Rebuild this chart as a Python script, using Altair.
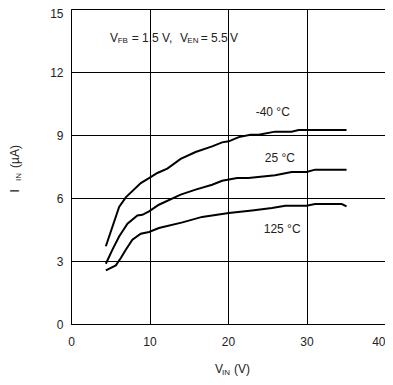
import altair as alt
import pandas as pd

# ---- data ----
x_m40 = [4.44, 6.13, 6.98, 8.89, 9.94, 11.0, 12.27, 13.97, 15.87, 17.98, 19.25, 20.1, 21.37, 22.86, 23.9, 26.0, 28.1, 29.0, 35.1]
y_m40 = [3.70, 5.57, 6.03, 6.71, 6.95, 7.19, 7.40, 7.86, 8.19, 8.46, 8.65, 8.70, 8.90, 9.01, 9.01, 9.16, 9.16, 9.24, 9.24]

x_25 = [4.44, 5.28, 6.13, 7.19, 8.46, 9.09, 9.94, 11.2, 13.97, 15.87, 17.98, 19.25, 21.16, 22.6, 26.0, 28.1, 30.0, 31.1, 35.1]
y_25 = [2.87, 3.54, 4.17, 4.78, 5.17, 5.20, 5.36, 5.68, 6.16, 6.40, 6.63, 6.82, 6.95, 6.95, 7.08, 7.24, 7.24, 7.35, 7.35]

x_125 = [4.44, 5.71, 6.35, 6.98, 7.82, 8.89, 9.94, 11.2, 14.2, 16.7, 20.1, 23.06, 25.6, 27.3, 30.0, 31.1, 34.5, 35.1]
y_125 = [2.55, 2.79, 3.14, 3.54, 4.01, 4.30, 4.38, 4.57, 4.84, 5.10, 5.29, 5.41, 5.52, 5.63, 5.63, 5.71, 5.71, 5.60]

series_names = ["-40 °C", "25 °C", "125 °C"]
label_x = [25.7, 26.6, 26.9]
label_y = [10.1, 7.9, 4.52]

x_ticks = [0, 10, 20, 30, 40]
y_ticks = [0, 3, 6, 9, 12, 15]

rows = []
for name, xs, ys in zip(series_names, [x_m40, x_25, x_125], [y_m40, y_25, y_125]):
    for i, (a, b) in enumerate(zip(xs, ys)):
        rows.append({"series": name, "vin": a, "iin": b, "order": i})
df = pd.DataFrame(rows)
lab = pd.DataFrame({"series": series_names, "vin": label_x, "iin": label_y})

FONT = "Liberation Sans"
TXT = "#222"
W, H = 314, 315

xs = alt.Scale(domain=[0, 40], nice=False)
ys = alt.Scale(domain=[0, 15], nice=False)

lines = alt.Chart(df).mark_line(color="black", strokeWidth=2).encode(
    x=alt.X("vin:Q", scale=xs, axis=alt.Axis(
        values=x_ticks, title=None, grid=True, ticks=False, labelFlush=False,
        labelAlign={"condition": {"test": "datum.value >= 40", "value": "right"}, "value": "center"},
        labelPadding=12, labelFontSize=12, labelFont=FONT, labelColor=TXT,
        gridColor="black", gridOpacity=1, domainColor="black")),
    y=alt.Y("iin:Q", scale=ys, axis=alt.Axis(
        values=y_ticks, title=None, grid=True, ticks=False, labelFlush=False,
        labelOffset={"condition": {"test": "datum.value >= 15", "value": 4}, "value": 0},
        labelPadding=8, labelFontSize=12, labelFont=FONT, labelColor=TXT,
        gridColor="black", gridOpacity=1, domainColor="black")),
    detail="series:N",
    order="order:Q",
)

labels = alt.Chart(lab).mark_text(font=FONT, fontSize=12, color=TXT, align="center", baseline="middle").encode(
    x=alt.X("vin:Q", scale=xs), y=alt.Y("iin:Q", scale=ys), text="series:N"
)


def piece(txt, x, y, size, angle=0):
    kw = dict(text=txt, font=FONT, fontSize=size, color=TXT, align="left", baseline="alphabetic")
    if angle:
        kw["angle"] = angle
    return alt.Chart(pd.DataFrame({"a": [0]})).mark_text(**kw).encode(x=alt.value(x), y=alt.value(y))


# annotation V_FB = 1.5 V, V_EN = 5.5 V  (positions relative to plot area)
ay = 32.5
sy = ay + 1.2
ann = [
    piece("V", 39, ay, 12), piece("FB", 46.7, sy, 8), piece("= 1.5 V,", 60.7, ay, 12),
    piece("V", 109, ay, 12), piece("EN", 116.3, sy, 8), piece("= 5.5", 129.7, ay, 12),
    piece("V", 159, ay, 12),
]
# x title
tx = [piece("V", 144, 364, 12), piece("IN", 151, 365.5, 8), piece("(V)", 163, 364, 12)]
# y title (rotated)
bx = -52
ty = [piece("I", bx, 183.5, 12, 270), piece("IN", bx + 1.5, 172, 8, 270), piece("(µA)", bx, 159, 12, 270)]

chart = alt.layer(lines, labels, *ann, *tx, *ty).properties(
    width=W, height=H,
    autosize=alt.AutoSizeParams(type="none"),
    padding={"left": 63, "top": 1, "right": 0, "bottom": 53},
).configure_view(stroke="black", strokeWidth=1).configure(background="white")

chart.save("out.html", embed_options={"renderer": "svg", "actions": False})
